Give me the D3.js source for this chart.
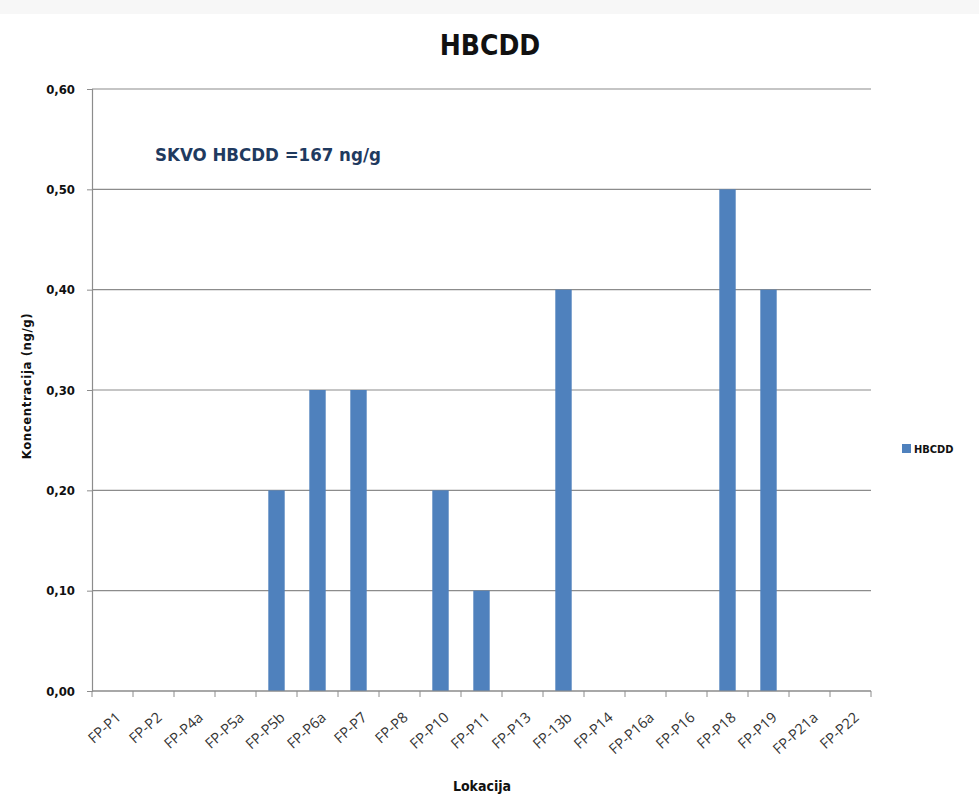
<!DOCTYPE html>
<html>
<head>
<meta charset="utf-8">
<script src="https://cdn.jsdelivr.net/npm/d3@7"></script>
<style>
  body { margin: 0; background: #fff; }
  text { font-family: "DejaVu Sans Condensed", "Liberation Sans Narrow", sans-serif; }
</style>
</head>
<body>
<div id="chart"></div>
<script>
// Data
const locations = ["FP-P1", "FP-P2", "FP-P4a", "FP-P5a", "FP-P5b", "FP-P6a", "FP-P7", "FP-P8",
  "FP-P10", "FP-P11", "FP-P13", "FP-13b", "FP-P14", "FP-P16a", "FP-P16", "FP-P18", "FP-P19",
  "FP-P21a", "FP-P22"];
const hbcdd = [0, 0, 0, 0, 0.2, 0.3, 0.3, 0, 0.2, 0.1, 0, 0.4, 0, 0, 0, 0.5, 0.4, 0, 0];
const yTicks = [0, 0.1, 0.2, 0.3, 0.4, 0.5, 0.6];

const W = 979, H = 803;
const margin = {top: 89, right: 108, bottom: 112, left: 92},
      width = W - margin.left - margin.right,
      height = H - margin.top - margin.bottom;

const root = d3.select("#chart").append("svg")
    .attr("width", W)
    .attr("height", H);

// faint grey strip at the top of the picture
root.append("rect").attr("x", 0).attr("y", 0).attr("width", W).attr("height", 14).attr("fill", "#f7f7f7");

const svg = root.append("g")
    .attr("transform", `translate(${margin.left},${margin.top})`);

const x = d3.scaleBand()
  .domain(locations)
  .range([0, width])
  .paddingInner(0.6)
  .paddingOuter(0.3);

const y = d3.scaleLinear()
  .domain([0, 0.6])
  .range([height, 0]);

const fmt = d => d3.format(".2f")(d).replace(".", ",");

// Gridlines
svg.selectAll(".grid")
  .data(yTicks)
  .join("line")
    .attr("x1", 0)
    .attr("x2", width)
    .attr("y1", d => y(d))
    .attr("y2", d => y(d))
    .attr("stroke", "#8c8c8c")
    .attr("stroke-width", 1.2);

// Y axis
const yAxis = svg.append("g")
  .call(d3.axisLeft(y).tickValues(yTicks).tickFormat(fmt).tickSize(5).tickPadding(12));
yAxis.select(".domain").attr("stroke", "#8c8c8c").attr("stroke-width", 1.2);
yAxis.selectAll(".tick line").attr("stroke", "#8c8c8c");
yAxis.selectAll("text")
  .style("font-family", "'DejaVu Sans Condensed', sans-serif")
  .style("font-size", "13px")
  .style("font-weight", "bold")
  .attr("fill", "#111");

// Bars
svg.selectAll(".bar")
  .data(locations.map((l, i) => ({loc: l, val: hbcdd[i]})))
  .join("rect")
    .attr("class", "bar")
    .attr("x", d => x(d.loc))
    .attr("y", d => y(d.val))
    .attr("width", x.bandwidth())
    .attr("height", d => height - y(d.val))
    .attr("fill", "#4f81bd");

// X axis (ticks at category boundaries)
const xAxis = svg.append("g")
  .attr("transform", `translate(0,${height})`);
xAxis.append("line")
  .attr("x1", 0).attr("x2", width)
  .attr("stroke", "#8c8c8c").attr("stroke-width", 1.2);
xAxis.selectAll(".xtick")
  .data(d3.range(locations.length + 1))
  .join("line")
    .attr("x1", i => i * width / locations.length)
    .attr("x2", i => i * width / locations.length)
    .attr("y1", 0).attr("y2", 6)
    .attr("stroke", "#8c8c8c");
xAxis.selectAll(".xlabel")
  .data(locations)
  .join("text")
    .attr("transform", d => `translate(${x(d) + x.bandwidth() / 2 + 6},${24}) rotate(-42)`)
    .attr("text-anchor", "end")
    .attr("dy", "0.35em")
    .style("font-family", "'Open Sans', sans-serif")
    .style("font-size", "14.5px")
    .attr("fill", "#333")
    .text(d => d);

// Title
root.append("text")
  .attr("x", 490)
  .attr("y", 55)
  .attr("text-anchor", "middle")
  .style("font-size", "28px")
  .style("font-weight", "bold")
  .attr("fill", "#111")
  .text("HBCDD");

// Annotation
svg.append("text")
  .attr("x", 63)
  .attr("y", y(0.528))
  .style("font-size", "18.5px")
  .style("font-weight", "bold")
  .attr("fill", "#1f3a5f")
  .text("SKVO HBCDD =167 ng/g");

// Y axis label
root.append("text")
  .attr("transform", `translate(31,386) rotate(-90)`)
  .attr("text-anchor", "middle")
  .style("font-size", "13px")
  .style("font-weight", "bold")
  .style("letter-spacing", "0.6px")
  .attr("fill", "#111")
  .text("Koncentracija  (ng/g)");

// X axis label
root.append("text")
  .attr("x", 482)
  .attr("y", 791)
  .attr("text-anchor", "middle")
  .style("font-size", "14px")
  .style("font-weight", "bold")
  .attr("fill", "#111")
  .text("Lokacija");

// Legend
const legend = root.append("g").attr("transform", "translate(902,444)");
legend.append("rect").attr("width", 9).attr("height", 9).attr("fill", "#4f81bd");
legend.append("text")
  .attr("x", 12).attr("y", 8.5)
  .style("font-size", "11px")
  .style("font-weight", "bold")
  .attr("fill", "#111")
  .text("HBCDD");
</script>
</body>
</html>
